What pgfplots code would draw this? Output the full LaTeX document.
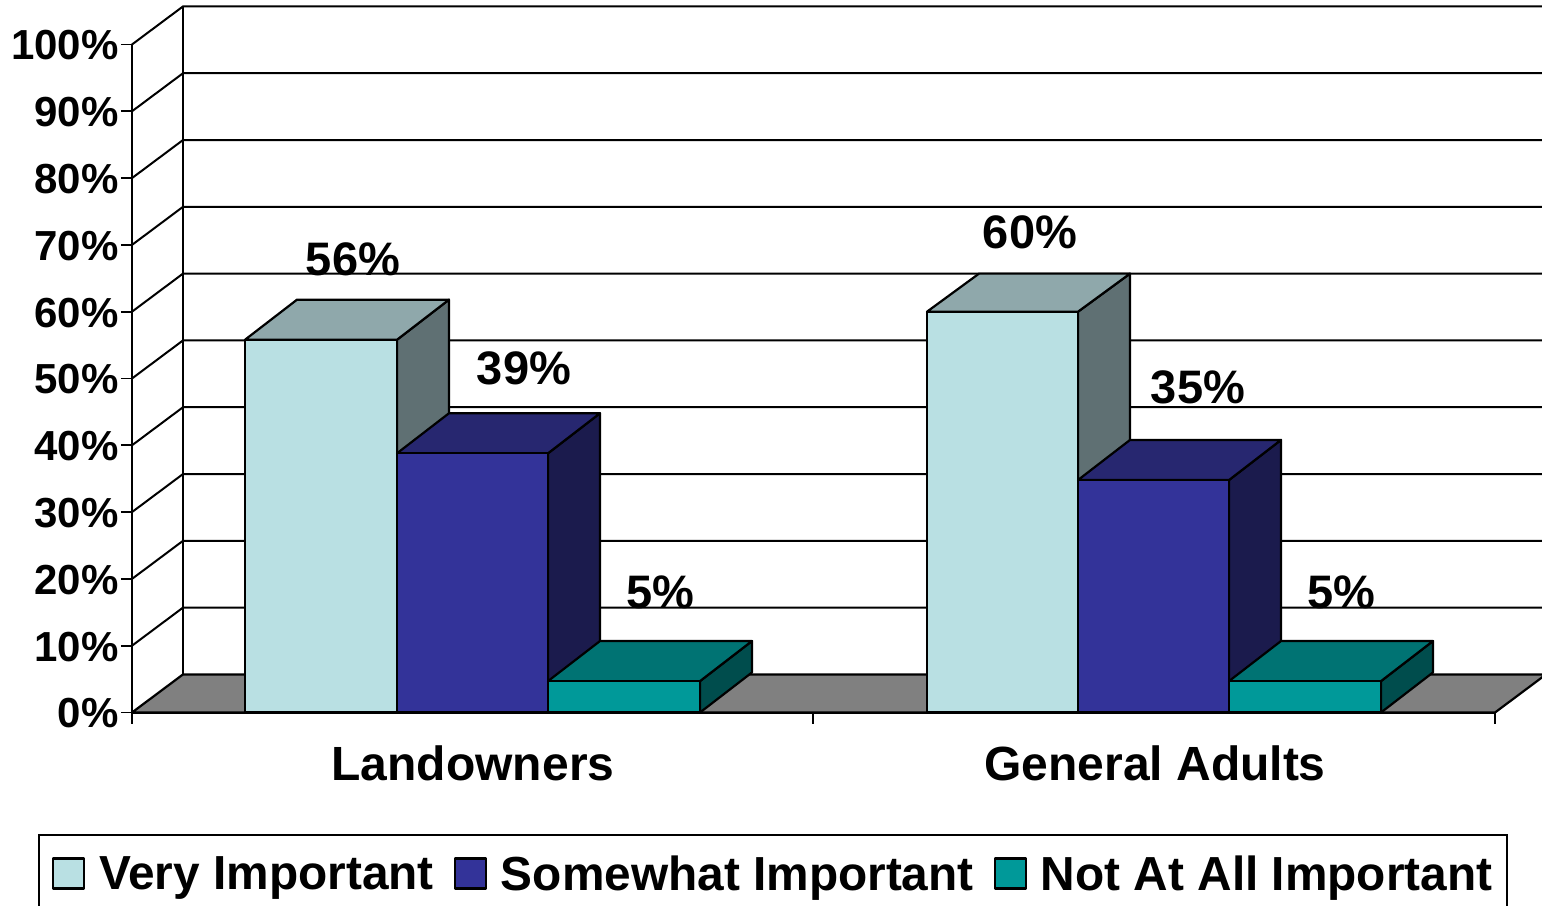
\documentclass[border=0pt]{standalone}
\usepackage{fontspec}
\setmainfont{Liberation Sans}
\usepackage{pgfplots}
\pgfplotsset{compat=1.18}

\definecolor{lightfront}{HTML}{B9E0E3}
\definecolor{lighttop}{HTML}{8FA8AB}
\definecolor{lightside}{HTML}{5F7073}
\definecolor{bluefront}{HTML}{333399}
\definecolor{bluetop}{HTML}{272770}
\definecolor{blueside}{HTML}{1B1B4D}
\definecolor{tealfront}{HTML}{009999}
\definecolor{tealtop}{HTML}{007373}
\definecolor{tealside}{HTML}{004D4D}

\newcommand{\bigbf}[1]{\fontsize{#1}{#1}\selectfont\bfseries}

\begin{document}
\begin{tikzpicture}[x=1pt,y=1pt]
  \useasboundingbox (0,0) rectangle (1542,905);
  \begin{axis}[
    at={(132pt,192.5pt)},
    anchor=south west,
    scale only axis,
    width=1363pt,
    height=668pt,
    xmin=132,xmax=1495,ymin=0,ymax=100,
    clip=false,
    axis lines=left,
    axis line style={-,line width=2.2pt,black},
    tick align=outside,
    tick style={black,line width=1.8pt},
    major tick length=11pt,
    xtick={132,813,1495},
    xticklabels={},
    extra x ticks={473,1155},
    extra x tick labels={Landowners,General Adults},
    extra x tick style={major tick length=0pt,tick style={draw=none}},
    xticklabel style={font=\bigbf{48},yshift=-30pt},
    ytick={0,10,...,100},
    yticklabels={0\%,10\%,20\%,30\%,40\%,50\%,60\%,70\%,80\%,90\%,100\%},
    yticklabel style={font=\bigbf{42},xshift=1pt,yshift=-1pt},
    wall/.style={draw=black,line width=2pt,forget plot},
    face/.style={draw=black,line width=2.2pt,line join=round,fill=#1},
    side/.style={face=#1,forget plot},
    legend columns=3,
    legend cell align=left,
    legend image code/.code={\draw[#1] (0pt,-14.5pt) rectangle (31pt,15.5pt);},
    legend style={
      at={(axis cs:38,-18.2)},
      anchor=north west,
      draw=black,
      line width=1.8pt,
      inner xsep=13pt,
      inner ysep=19pt,
      font=\bigbf{47.8},
      /tikz/every odd column/.append style={column sep=12pt},
      /tikz/every even column/.append style={column sep=18pt}}]

    % floor
    \addplot[side=gray] coordinates {(132,0) (183,5.7) (1546,5.7) (1495,0)} --cycle;

    % walls and grid lines
    \addplot[wall] coordinates {(183,5.7) (183,105.7)};
    \addplot[wall] coordinates {(132,10) (183,15.7) (1546,15.7)};
    \addplot[wall] coordinates {(132,20) (183,25.7) (1546,25.7)};
    \addplot[wall] coordinates {(132,30) (183,35.7) (1546,35.7)};
    \addplot[wall] coordinates {(132,40) (183,45.7) (1546,45.7)};
    \addplot[wall] coordinates {(132,50) (183,55.7) (1546,55.7)};
    \addplot[wall] coordinates {(132,60) (183,65.7) (1546,65.7)};
    \addplot[wall] coordinates {(132,70) (183,75.7) (1546,75.7)};
    \addplot[wall] coordinates {(132,80) (183,85.7) (1546,85.7)};
    \addplot[wall] coordinates {(132,90) (183,95.7) (1546,95.7)};
    \addplot[wall] coordinates {(132,100) (183,105.7) (1546,105.7)};

    % Landowners
    \addplot[side=lightside] coordinates {(397,0) (449,6) (449,61.8) (397,55.8)} --cycle;
    \addplot[side=lighttop] coordinates {(245,55.8) (297,61.8) (449,61.8) (397,55.8)} --cycle;
    \addplot[face=lightfront] coordinates {(245,0) (245,55.8) (397,55.8) (397,0)} --cycle;

    \addplot[side=blueside] coordinates {(548,0) (600,6) (600,44.8) (548,38.8)} --cycle;
    \addplot[side=bluetop] coordinates {(397,38.8) (449,44.8) (600,44.8) (548,38.8)} --cycle;
    \addplot[face=bluefront] coordinates {(397,0) (397,38.8) (548,38.8) (548,0)} --cycle;

    \addplot[side=tealside] coordinates {(700,0) (752,6) (752,10.7) (700,4.7)} --cycle;
    \addplot[side=tealtop] coordinates {(548,4.7) (600,10.7) (752,10.7) (700,4.7)} --cycle;
    \addplot[face=tealfront] coordinates {(548,0) (548,4.7) (700,4.7) (700,0)} --cycle;

    % General Adults
    \addplot[side=lightside] coordinates {(1078,0) (1130,6) (1130,65.7) (1078,60)} --cycle;
    \addplot[side=lighttop] coordinates {(927,60) (979,65.7) (1130,65.7) (1078,60)} --cycle;
    \addplot[side=lightfront] coordinates {(927,0) (927,60) (1078,60) (1078,0)} --cycle;

    \addplot[side=blueside] coordinates {(1229,0) (1281,6) (1281,40.8) (1229,34.8)} --cycle;
    \addplot[side=bluetop] coordinates {(1078,34.8) (1130,40.8) (1281,40.8) (1229,34.8)} --cycle;
    \addplot[side=bluefront] coordinates {(1078,0) (1078,34.8) (1229,34.8) (1229,0)} --cycle;

    \addplot[side=tealside] coordinates {(1381,0) (1433,6) (1433,10.7) (1381,4.7)} --cycle;
    \addplot[side=tealtop] coordinates {(1229,4.7) (1281,10.7) (1433,10.7) (1381,4.7)} --cycle;
    \addplot[side=tealfront] coordinates {(1229,0) (1229,4.7) (1381,4.7) (1381,0)} --cycle;

    \legend{Very Important,Somewhat Important,Not At All Important}

    % value labels
    \node[font=\bigbf{47}] at (axis cs:353,67.8) {56\%};
    \node[font=\bigbf{47}] at (axis cs:524,51.5) {39\%};
    \node[font=\bigbf{47}] at (axis cs:660,18) {5\%};
    \node[font=\bigbf{47}] at (axis cs:1030,71.9) {60\%};
    \node[font=\bigbf{47}] at (axis cs:1198,48.6) {35\%};
    \node[font=\bigbf{47}] at (axis cs:1341,18) {5\%};
  \end{axis}
\end{tikzpicture}
\end{document}
